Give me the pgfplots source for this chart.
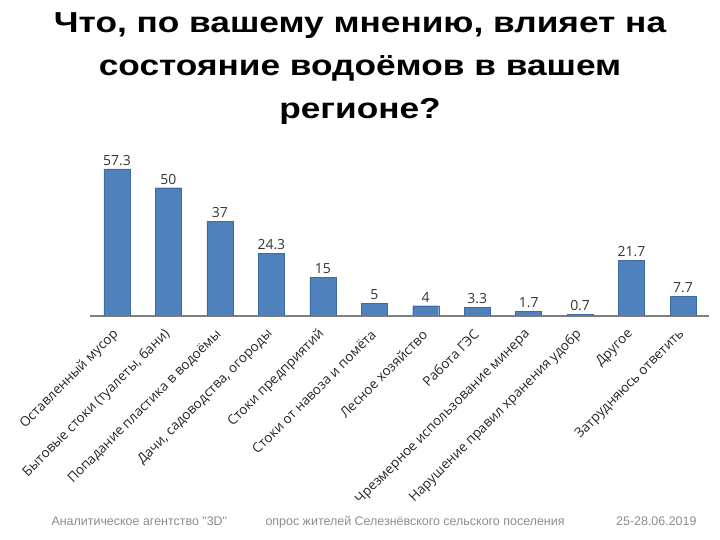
\documentclass[border=0pt]{standalone}
\usepackage{fontspec}
\setmainfont{Open Sans}
\newfontfamily\titlefont[FakeStretch=1.22]{Liberation Sans}
\newfontfamily\footfont{Liberation Sans}
\usepackage{pgfplots}
\pgfplotsset{compat=1.18}
\definecolor{barblue}{HTML}{4F81BD}
\definecolor{baredge}{HTML}{3D6CA5}
\definecolor{axisgray}{HTML}{7F7F7F}
\definecolor{valgray}{HTML}{333333}
\definecolor{footgray}{HTML}{8C8C8C}

\begin{document}
\begin{tikzpicture}
\clip (0,0) rectangle (720bp,540bp);
% title
\begin{scope}[every node/.style={font=\titlefont\fontsize{29}{29}\selectfont\bfseries, anchor=base}]
\node at (360bp,507bp) {Что, по вашему мнению, влияет на};
\node at (360bp,464bp) {состояние водоёмов в вашем};
\node at (360bp,421bp) {регионе?};
\end{scope}

\begin{axis}[
    at={(117bp,224bp)}, anchor=origin,
    scale only axis,
    width=619bp, height=176bp,
    xmin=-0.525, xmax=11.505,
    ymin=0, ymax=68.6,
    axis x line=bottom,
    axis y line=none,
    axis line style={axisgray, line width=2bp, -},
    xtick={0,...,11},
    major tick length=0pt,
    xticklabels={
      Оставленный мусор,
      {Бытовые стоки (туалеты, бани)},
      Попадание пластика в водоёмы,
      {Дачи, садоводства, огороды},
      Стоки предприятий,
      Стоки от навоза и помёта,
      Лесное хозяйство,
      Работа ГЭС,
      Чрезмерное использование минера,
      Нарушение правил хранения удобр,
      Другое,
      Затрудняюсь ответить},
    x tick label style={rotate=45, anchor=east, font=\fontsize{13.5}{13.5}\selectfont,
      color=black!85, inner sep=2pt, xshift=-10bp, yshift=-11bp},
    ybar,
    bar width=26bp,
    nodes near coords,
    /pgf/number format/assume math mode=true,
    every node near coord/.append style={font=\fontsize{14}{14}\selectfont, color=valgray},
  ]
  \addplot[fill=barblue, draw=baredge] coordinates {
    (0,57.3) (1,50) (2,37) (3,24.3) (4,15) (5,5)
    (6,4) (7,3.3) (8,1.7) (9,0.7) (10,21.7) (11,7.7)};
\end{axis}

% footer
\begin{scope}[every node/.style={font=\footfont\fontsize{12.5}{12.5}\selectfont, color=footgray}]
\node[anchor=base west] at (48bp,15bp) {Аналитическое агентство "3D"};
\node[anchor=base west] at (262bp,15bp) {опрос жителей Селезнёвского сельского поселения};
\node[anchor=base east] at (700bp,15bp) {25-28.06.2019};
\end{scope}
\end{tikzpicture}
\end{document}
